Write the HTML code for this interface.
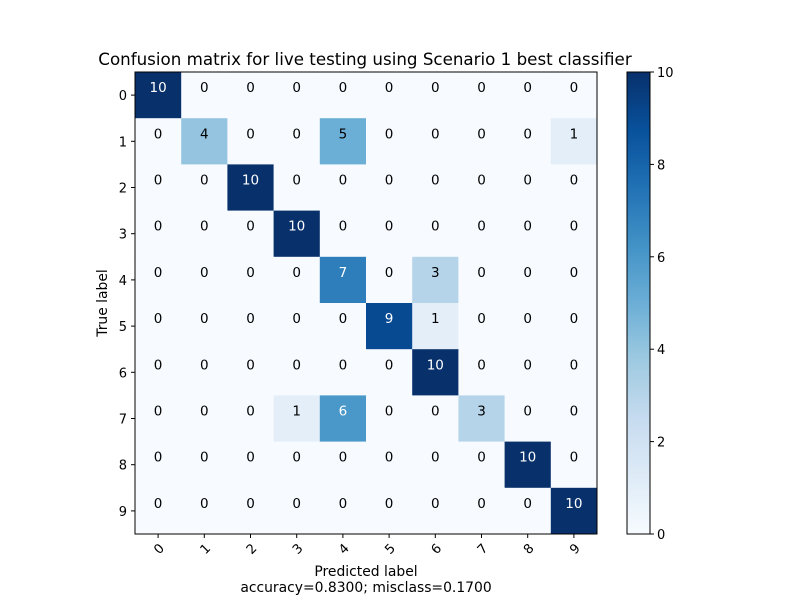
<!DOCTYPE html>
<html><head><meta charset="utf-8">
<style>body{margin:0;background:#fff}svg text{font-family:"DejaVu Sans","Liberation Sans",sans-serif;}</style>
</head><body>
<svg id="chart" width="800" height="600" xmlns="http://www.w3.org/2000/svg">
<rect width="800" height="600" fill="#fff"/>
<text x="365" y="65" font-size="16.7" text-anchor="middle">Confusion matrix for live testing using Scenario 1 best classifier</text>
<g id="cells"></g>
<g id="axes"></g>
<text transform="translate(107,303) rotate(-90)" font-size="13.9" text-anchor="middle">True label</text>
<text x="366" y="576" font-size="13.9" text-anchor="middle">Predicted label</text>
<text x="366" y="592" font-size="13.9" text-anchor="middle">accuracy=0.8300; misclass=0.1700</text>
<g id="cbar"></g>
</svg>
<script>
const labels = ["0","1","2","3","4","5","6","7","8","9"];
const matrix = [
[10,0,0,0,0,0,0,0,0,0],
[0,4,0,0,5,0,0,0,0,1],
[0,0,10,0,0,0,0,0,0,0],
[0,0,0,10,0,0,0,0,0,0],
[0,0,0,0,7,0,3,0,0,0],
[0,0,0,0,0,9,1,0,0,0],
[0,0,0,0,0,0,10,0,0,0],
[0,0,0,1,6,0,0,3,0,0],
[0,0,0,0,0,0,0,0,10,0],
[0,0,0,0,0,0,0,0,0,10]];
const cbarTicks = [0,2,4,6,8,10];
const vmax = 10;
const NS="http://www.w3.org/2000/svg";
const X0=135,Y0=72,W=462,H=462,n=labels.length,cw=W/n,ch=H/n;
const xs=i=>X0+cw*i, ys=i=>Y0+ch*i;
const stops=["#f7fbff","#deebf7","#c6dbef","#9ecae1","#6baed6","#4292c6","#2171b5","#08519c","#08306b"];
function hex(h){return [1,3,5].map(k=>parseInt(h.substr(k,2),16));}
function color(v){let t=Math.max(0,Math.min(1,v/vmax))*(stops.length-1);let i=Math.min(Math.floor(t),stops.length-2),f=t-i;
const a=hex(stops[i]),b=hex(stops[i+1]);return "rgb("+a.map((c,k)=>Math.round(c+(b[k]-c)*f)).join(",")+")";}
function mk(tag,attrs,parent){const e=document.createElementNS(NS,tag);for(const k in attrs)e.setAttribute(k,attrs[k]);parent.appendChild(e);return e;}
const cells=document.getElementById('cells');
matrix.forEach((row,r)=>row.forEach((v,c)=>{
 const rc=mk('rect',{x:xs(c),y:ys(r),width:cw+0.5,height:ch+0.5,fill:color(v)},cells);
 
 
 const t=mk('text',{x:xs(c)+cw/2,y:ys(r)+ch/2-3,'font-size':13.5,'text-anchor':'middle',fill:v>vmax/2?'#fff':'#000'},cells);
 t.textContent=v;
 
 
}));
const ax=document.getElementById('axes');
mk('rect',{x:X0,y:Y0,width:W,height:H,fill:'none',stroke:'#000','stroke-width':1},ax);
labels.forEach((l,i)=>{
 const cx=xs(i)+cw/2, cy=ys(i)+ch/2;
 mk('line',{x1:cx,x2:cx,y1:Y0+H,y2:Y0+H+4,stroke:'#000'},ax);
 const tx=mk('text',{transform:`translate(${cx+4},${Y0+H+18}) rotate(-45)`,'font-size':13,'text-anchor':'middle'},ax);
 tx.textContent=l;
 
 
 mk('line',{x1:X0-4,x2:X0,y1:cy,y2:cy,stroke:'#000'},ax);
 const ty=mk('text',{x:X0-8,y:cy+5,'font-size':13,'text-anchor':'end'},ax);
 ty.textContent=l;
 
 
});
const cb=document.getElementById('cbar');
const CX=627,CW=23,CY=72,CH=462;
const defs=mk('defs',{},cb);
const g=mk('linearGradient',{id:'bl',x1:0,y1:1,x2:0,y2:0},defs);
stops.forEach((s,i)=>mk('stop',{offset:i/(stops.length-1),'stop-color':s},g));
const bar=mk('rect',{x:CX,y:CY,width:CW,height:CH,fill:'url(#bl)',stroke:'#000','stroke-width':1},cb);


cbarTicks.forEach(v=>{
 const y=CY+CH-CH*v/vmax;
 mk('line',{x1:CX+CW,x2:CX+CW+4,y1:y,y2:y,stroke:'#000'},cb);
 const t=mk('text',{x:CX+CW+7,y:y+5,'font-size':13},cb);
 t.textContent=v;
 
 
});
</script>
</body></html>
